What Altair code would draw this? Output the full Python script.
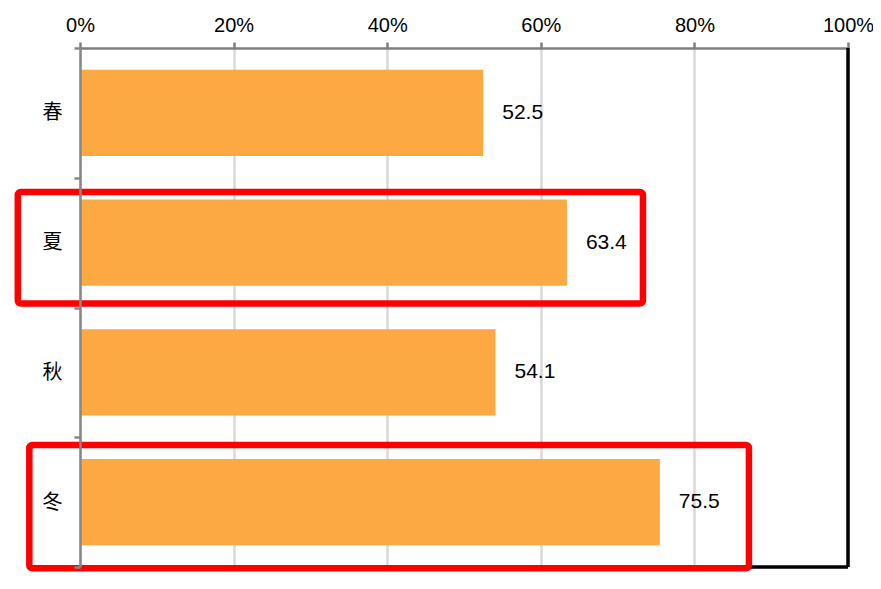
import altair as alt
import pandas as pd

# ---- data ----
seasons = ["春", "夏", "秋", "冬"]
values = [52.5, 63.4, 54.1, 75.5]
x_ticks = [0, 20, 40, 60, 80, 100]

# red highlight boxes, in data units (x: percent, y: category slots 0..4 counted from top)
box_x_start = [-8.1, -6.6]
box_x_end = [73.3, 87.1]
box_y_start = [1.11, 3.06]
box_y_end = [1.97, 4.01]

# frame lines (right and bottom edge of the plot), in data units
frame_x_start = [100, 0]
frame_x_end = [100, 100]
frame_y_start = [0, 4]
frame_y_end = [4, 4]

df = pd.DataFrame({"season": seasons, "value": values})
boxes = pd.DataFrame({"x1": box_x_start, "x2": box_x_end, "y1": box_y_start, "y2": box_y_end})
frame = pd.DataFrame({"x1": frame_x_start, "x2": frame_x_end, "y1": frame_y_start, "y2": frame_y_end})

x_scale = alt.Scale(domain=[0, 100], nice=False, zero=False)
x_axis = alt.Axis(
    orient="top", values=x_ticks, labelExpr="datum.value + '%'", title=None,
    grid=True, gridColor="#D9D9D9", gridWidth=2.5,
    domainColor="#7F7F7F", domainWidth=2.5,
    tickColor="#7F7F7F", tickWidth=2.5, tickSize=6,
    labelFont="Liberation Sans", labelFontSize=20, labelColor="black",
    labelPadding=7, labelFlush=False,
)
y_band = alt.Scale(domain=seasons, paddingInner=0, paddingOuter=0)
y_axis = alt.Axis(
    title=None, grid=False, zindex=1,
    domainColor="#888888", domainWidth=2.5,
    tickColor="#888888", tickWidth=2.5, tickSize=6, tickBand="extent",
    labelFont="Noto Sans CJK JP", labelFontSize=20, labelColor="black",
    labelPadding=12,
)
y_q = alt.Scale(domain=[0, 4], reverse=True, nice=False, zero=False)

bars = alt.Chart(df).mark_bar(
    color="#FCA944", height=alt.RelativeBandSize(band=0.663)
).encode(
    x=alt.X("value:Q", scale=x_scale, axis=x_axis),
    y=alt.Y("season:N", scale=y_band, axis=y_axis, sort=None),
)

labels = alt.Chart(df).mark_text(
    align="left", baseline="middle", dx=19,
    font="Liberation Sans", fontSize=21, color="black",
).encode(
    x=alt.X("value:Q", scale=x_scale, axis=x_axis),
    y=alt.Y("season:N", scale=y_band, axis=None, sort=None),
    text=alt.Text("value:Q", format=".1f"),
)

frame_lines = alt.Chart(frame).mark_rule(color="black", strokeWidth=3.5).encode(
    x=alt.X("x1:Q", scale=x_scale, axis=x_axis),
    x2="x2:Q",
    y=alt.Y("y1:Q", scale=y_q, axis=None),
    y2="y2:Q",
)

highlight = alt.Chart(boxes).mark_rect(
    fillOpacity=0, stroke="#FF0000", strokeWidth=6.5, cornerRadius=3,
).encode(
    x=alt.X("x1:Q", scale=x_scale, axis=x_axis),
    x2="x2:Q",
    y=alt.Y("y1:Q", scale=y_q, axis=None),
    y2="y2:Q",
)

chart = alt.layer(bars, labels, frame_lines, highlight).resolve_scale(
    y="independent"
).properties(
    width=768, height=519,
    autosize=alt.AutoSizeParams(type="none"),
    padding={"left": 72, "top": 40, "right": 25, "bottom": 14},
    background="white",
).configure_view(stroke=None)

chart.save("out.html", embed_options={"renderer": "svg", "actions": False})
